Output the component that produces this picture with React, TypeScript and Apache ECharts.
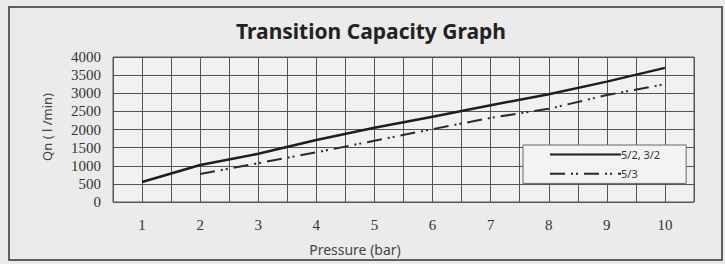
import React, { useEffect, useRef } from "react";
import * as echarts from "echarts";

const pressures = [1, 2, 3, 4, 5, 6, 7, 8, 9, 10];
const flow523: (number | null)[] = [550, 1020, 1330, 1710, 2050, 2350, 2670, 2970, 3320, 3700];
const flow53: (number | null)[] = [null, 770, 1070, 1370, 1690, 2010, 2320, 2570, 2950, 3250];
const seriesNames = ["5/2, 3/2", "5/3"];
const titleText = "Transition Capacity Graph";
const yName = "Qn ( l /min)";
const xName = "Pressure (bar)";

export default function App() {
  const ref = useRef<HTMLDivElement>(null);
  useEffect(() => {
    if (!ref.current) return;
    const chart = echarts.init(ref.current, undefined, { renderer: "svg" });
    const pair = (arr: (number | null)[]) =>
      pressures.map((p, i) => [p, arr[i]]).filter((d) => d[1] !== null);
    chart.setOption({
      animation: false,
      backgroundColor: "#ebebeb",
      title: {
        text: titleText,
        left: 366,
        textAlign: "center",
        top: 15,
        textStyle: {
          fontFamily: "Noto Sans",
          fontWeight: "bold",
          fontSize: 21,
          color: "#222",
        },
      },
      grid: {
        left: 113,
        top: 57,
        right: 31,
        bottom: 62,
        show: true,
        backgroundColor: "#f1f1f1",
        borderColor: "#555",
        borderWidth: 1,
      },
      xAxis: {
        type: "value",
        min: 0.5,
        max: 10.5,
        interval: 0.5,
        axisLine: { show: false },
        axisTick: { show: false },
        splitLine: { show: true, lineStyle: { color: "#555", width: 1 } },
        axisLabel: {
          margin: 15,
          fontFamily: "Liberation Serif",
          fontSize: 15,
          color: "#333",
          formatter: (v: number) => (Number.isInteger(v) ? String(v) : ""),
        },
      },
      yAxis: {
        type: "value",
        min: 0,
        max: 4000,
        interval: 500,
        axisLine: { show: false },
        axisTick: { show: false },
        splitLine: { show: true, lineStyle: { color: "#555", width: 1 } },
        axisLabel: {
          margin: 12,
          fontFamily: "Liberation Serif",
          fontSize: 15,
          color: "#333",
          formatter: (v: number) => String(v),
        },
      },
      legend: {
        orient: "vertical",
        left: 523,
        top: 145,
        padding: [4, 26, 4, 26],
        itemWidth: 71,
        itemHeight: 14,
        itemGap: 8,
        backgroundColor: "#f3f3f3",
        borderColor: "#666",
        borderWidth: 1,
        itemStyle: { opacity: 0 },
        textStyle: { fontFamily: "Noto Sans", fontSize: 11, color: "#333", padding: [0, 0, 0, -5] },
        data: seriesNames,
      },
      graphic: [
        {
          type: "rect",
          shape: { x: 9, y: 7, width: 713, height: 253 },
          style: { fill: "none", stroke: "#333", lineWidth: 1.5 },
          silent: true,
        },
        {
          type: "text",
          x: 47,
          y: 127,
          rotation: Math.PI / 2,
          style: {
            text: yName,
            fontFamily: "Noto Sans",
            fontSize: 13,
            fill: "#444",
            align: "center",
            verticalAlign: "middle",
          },
        },
        {
          type: "text",
          x: 355,
          y: 242,
          style: {
            text: xName,
            fontFamily: "Noto Sans",
            fontSize: 14,
            fill: "#444",
            align: "center",
            verticalAlign: "top",
          },
        },
      ],
      series: [
        {
          name: seriesNames[0],
          type: "line",
          data: pair(flow523),
          symbol: "none",
          lineStyle: { color: "#1e1e1e", width: 2.5 },
          itemStyle: { color: "#1e1e1e" },
        },
        {
          name: seriesNames[1],
          type: "line",
          data: pair(flow53),
          symbol: "none",
          lineStyle: { color: "#2a2a2a", width: 2, type: [15, 6, 2, 3, 2, 6] },
          itemStyle: { color: "#2a2a2a" },
        },
      ],
    });
    return () => chart.dispose();
  }, []);
  return (
    <div
      ref={ref}
      style={{ position: "absolute", left: 0, top: 0, width: 725, height: 264 }}
    />
  );
}
